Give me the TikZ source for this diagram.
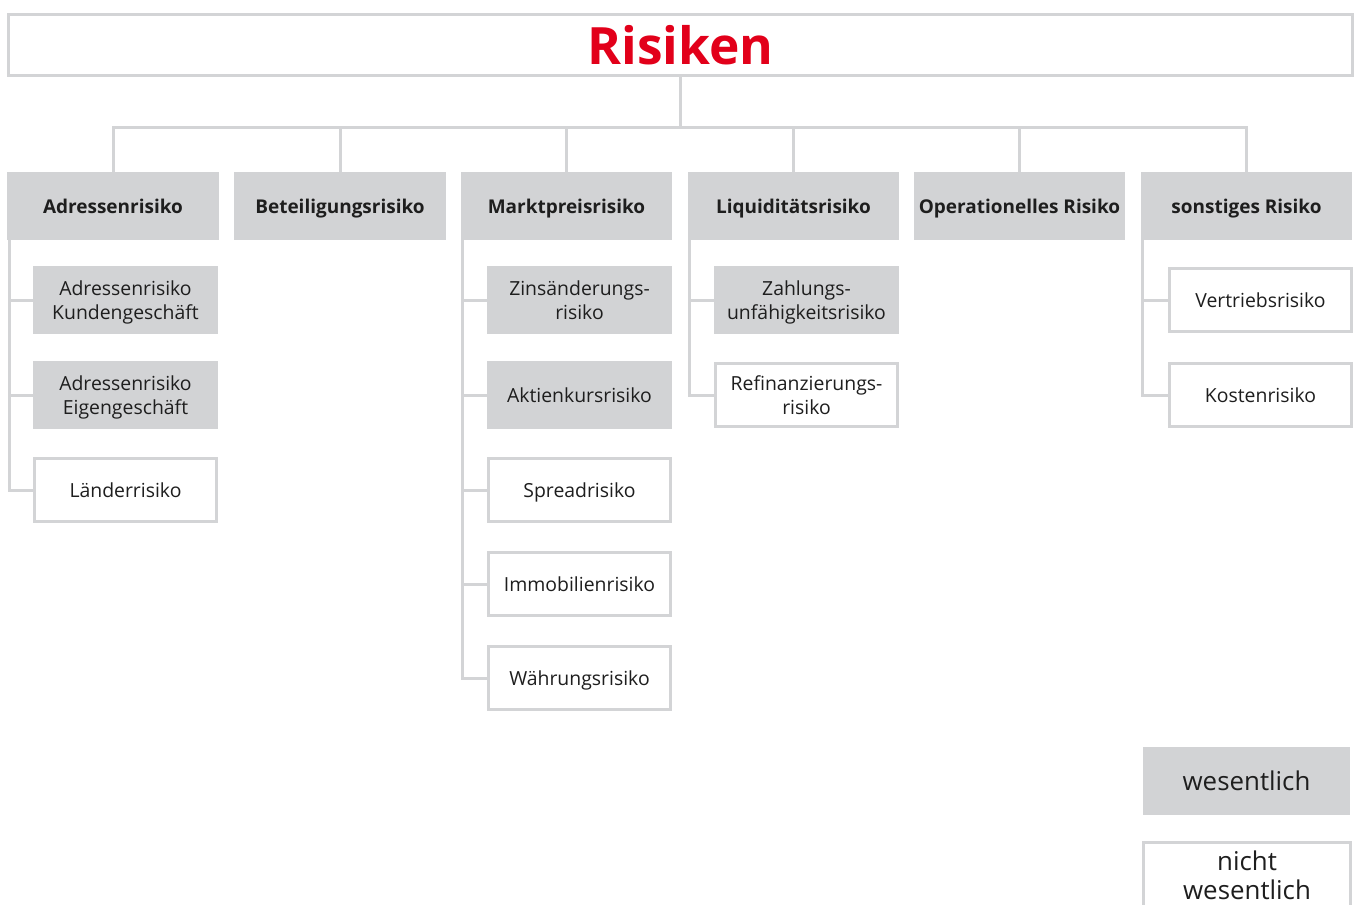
\documentclass[tikz,border=0pt]{standalone}
\usepackage{fontspec}
\setmainfont{Open Sans}

\definecolor{boxgray}{HTML}{D2D3D5}
\definecolor{linegray}{HTML}{D3D4D6}
\definecolor{sred}{HTML}{E2001A}
\definecolor{txt}{HTML}{1E1E1E}

\tikzset{
  conn/.style={draw=linegray, line width=0.075cm},
  headbox/.style={draw=linegray, line width=0.075cm, minimum width=33.6cm, minimum height=1.525cm, inner sep=0pt, text depth=0pt},
  mainbox/.style={fill=boxgray, minimum width=5.275cm, minimum height=1.7cm, inner sep=0pt, text depth=0pt, font=\fontsize{13.5}{16}\selectfont\bfseries},
  subfill/.style={fill=boxgray, minimum width=4.625cm, minimum height=1.7cm, inner sep=0pt, text depth=0pt, align=center, font=\fontsize{13.8}{17}\selectfont},
  subline/.style={draw=linegray, line width=0.075cm, fill=white, minimum width=4.55cm, minimum height=1.575cm, inner sep=0pt, text depth=0pt, align=center, font=\fontsize{13.8}{17}\selectfont},
}

\begin{document}
\begin{tikzpicture}[x=0.025cm, y=-0.025cm, every node/.append style={text=txt}]

\useasboundingbox (0,0) rectangle (1358,904);

\node [headbox, text=sred, font=\fontsize{36.6}{40}\selectfont\bfseries] (risiken) at (680.5,45) {Risiken};

\node [mainbox] (adr) at (113,206) {Adressenrisiko};
\node [mainbox] (bet) at (340,206) {Beteiligungsrisiko};
\node [mainbox] (mkt) at (566.5,206) {Marktpreisrisiko};
\node [mainbox] (liq) at (793.5,206) {Liquiditätsrisiko};
\node [mainbox] (opr) at (1019.5,206) {Operationelles Risiko};
\node [mainbox] (son) at (1246.5,206) {sonstiges Risiko};

\coordinate (bar) at (680.5,127);
\draw [conn] (risiken.south) -- (bar);
\foreach \n in {adr,bet,mkt,liq,opr,son}
  \draw [conn] (bar) -| (\n.north);

\node [subfill] (adrkunde) at (125.5,300) {Adressenrisiko\\Kundengeschäft};
\node [subfill] (adreigen) at (125.5,395) {Adressenrisiko\\Eigengeschäft};
\node [subline] (laender) at (125.5,490) {Länderrisiko};
\foreach \n in {adrkunde,adreigen,laender}
  \draw [conn] ([xshift=0.05cm]adr.south west) |- (\n.west);

\node [subfill] (zins) at (579.5,300) {Zinsänderungs-\\risiko};
\node [subfill] (aktien) at (579.5,395) {Aktienkursrisiko};
\node [subline] (spread) at (579.5,490) {Spreadrisiko};
\node [subline] (immo) at (579.5,584) {Immobilienrisiko};
\node [subline] (waehrung) at (579.5,678) {Währungsrisiko};
\foreach \n in {zins,aktien,spread,immo,waehrung}
  \draw [conn] ([xshift=0.05cm]mkt.south west) |- (\n.west);

\node [subfill] (zahlung) at (806.5,300) {Zahlungs-\\unfähigkeitsrisiko};
\node [subline] (refi) at (806.5,395) {Refinanzierungs-\\risiko};
\foreach \n in {zahlung,refi}
  \draw [conn] ([xshift=0.05cm]liq.south west) |- (\n.west);

\node [subline] (vertrieb) at (1260.5,300) {Vertriebsrisiko};
\node [subline] (kosten) at (1260.5,395) {Kostenrisiko};
\foreach \n in {vertrieb,kosten}
  \draw [conn] ([xshift=0.05cm]son.south west) |- (\n.west);

\node [subfill, minimum width=5.175cm, font=\fontsize{18.4}{20.5}\selectfont] (wes) at (1246.5,781) {wesentlich};
\node [subline, minimum width=5.175cm, minimum height=1.625cm, font=\fontsize{18.4}{20.5}\selectfont] (nwes) at (1247,875) {nicht\\wesentlich};

\end{tikzpicture}
\end{document}
